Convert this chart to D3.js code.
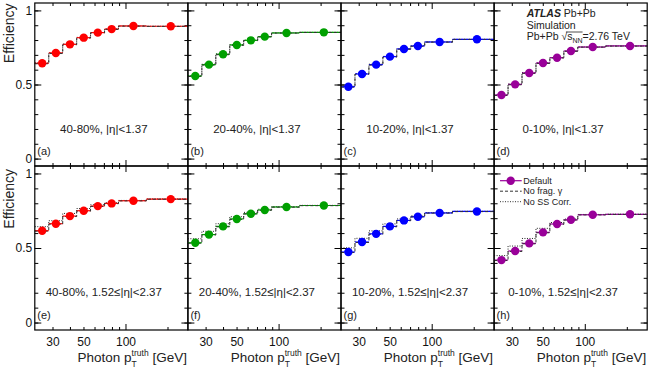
<!DOCTYPE html>
<html>
<head>
<meta charset="utf-8">
<script src="https://d3js.org/d3.v7.min.js"></script>
<style>
body { margin: 0; background: #fff; }
svg { display: block; font-family: "Liberation Sans", Arial, Helvetica, sans-serif; }
</style>
</head>
<body>
<script>
// photon pT bins (GeV) and where the markers sit
var binEdges = [22.4, 28.2, 35.5, 44.7, 56.2, 70.8, 89.1, 141, 280];
var ptPoints = [25.3, 31.7, 40, 50.2, 63.3, 79.6, 114, 211];

var centralities = ["40-80%", "20-40%", "10-20%", "0-10%"];
var etaLabels = ["|η|<1.37", "1.52≤|η|<2.37"];
var panelLetters = ["(a)", "(b)", "(c)", "(d)", "(e)", "(f)", "(g)", "(h)"];
var markerColors = ["#ff0000", "#00a000", "#0000ff", "#990099"];

var yTickLabels = [0, 0.5, 1];
var xTickLabels = [30, 50, 100];

// efficiency, one row per panel (a)..(h)
var effDefault = [
    [0.643, 0.713, 0.771, 0.816, 0.850, 0.874, 0.895, 0.893],
    [0.557, 0.634, 0.704, 0.767, 0.798, 0.823, 0.848, 0.852],
    [0.485, 0.571, 0.634, 0.688, 0.740, 0.760, 0.787, 0.805],
    [0.429, 0.501, 0.578, 0.645, 0.681, 0.726, 0.753, 0.760],
    [0.616, 0.663, 0.714, 0.750, 0.781, 0.799, 0.817, 0.828],
    [0.535, 0.590, 0.645, 0.695, 0.730, 0.755, 0.775, 0.785],
    [0.473, 0.540, 0.595, 0.645, 0.685, 0.710, 0.735, 0.745],
    [0.419, 0.480, 0.531, 0.605, 0.661, 0.689, 0.723, 0.726]
];
// no fragmentation photons
var effNoFrag = [
    [0.640, 0.709, 0.768, 0.813, 0.848, 0.872, 0.894, 0.892],
    [0.554, 0.631, 0.701, 0.764, 0.796, 0.821, 0.847, 0.851],
    [0.482, 0.568, 0.631, 0.685, 0.738, 0.758, 0.786, 0.804],
    [0.426, 0.498, 0.575, 0.642, 0.679, 0.724, 0.752, 0.759],
    [0.613, 0.660, 0.711, 0.747, 0.779, 0.797, 0.816, 0.827],
    [0.532, 0.587, 0.642, 0.692, 0.728, 0.753, 0.774, 0.784],
    [0.470, 0.537, 0.592, 0.642, 0.683, 0.708, 0.734, 0.744],
    [0.416, 0.477, 0.528, 0.602, 0.659, 0.687, 0.722, 0.725]
];
// no shower shape correction
var effNoSS = [
    [0.646, 0.716, 0.774, 0.818, 0.851, 0.875, 0.895, 0.893],
    [0.560, 0.637, 0.707, 0.769, 0.799, 0.824, 0.848, 0.852],
    [0.488, 0.574, 0.637, 0.690, 0.741, 0.761, 0.787, 0.805],
    [0.432, 0.504, 0.581, 0.647, 0.682, 0.727, 0.753, 0.760],
    [0.643, 0.683, 0.732, 0.765, 0.790, 0.804, 0.819, 0.829],
    [0.562, 0.612, 0.663, 0.710, 0.739, 0.760, 0.777, 0.786],
    [0.501, 0.565, 0.615, 0.662, 0.695, 0.716, 0.737, 0.746],
    [0.449, 0.513, 0.564, 0.632, 0.671, 0.694, 0.725, 0.727]
];

var W = 653, H = 367;
var left = 34.8, panelW = 153.1;
var rowTop = [3, 166], rowBottom = [166, 330];
var fontStack = "Liberation Sans, Arial, sans-serif";

var svg = d3.select("body").append("svg")
    .attr("width", W)
    .attr("height", H);

function styleAxis(g) {
    g.select(".domain").remove();
    g.selectAll("line").attr("stroke", "#000");
}

function styleLabels(s) {
    s.select(".domain").remove();
    s.selectAll("text")
        .attr("font-size", 12)
        .attr("font-family", fontStack)
        .attr("fill", "#111");
}

for (var p = 0; p < 8; p++) {
    var row = Math.floor(p / 4), col = p % 4;
    var x0 = left + col * panelW, x1 = x0 + panelW;
    var y0 = rowTop[row], y1 = rowBottom[row];

    var xScale = d3.scaleLog().domain([22.4, 280]).range([x0, x1]);
    var yScale = d3.scaleLinear().domain([-0.05, 1.05]).range([y1, y0]);

    var g = svg.append("g");

    // ticks on all four sides, pointing in
    var yMinor = d3.range(0, 1.001, 0.1);
    var xMinor = xScale.ticks().filter(function(d) { return d !== 100; });
    var axes = [
        [d3.axisLeft(yScale).tickValues(yMinor).tickSize(-3.5), x0, 0],
        [d3.axisLeft(yScale).tickValues(yTickLabels).tickSize(-6.5), x0, 0],
        [d3.axisRight(yScale).tickValues(yMinor).tickSize(-3.5), x1, 0],
        [d3.axisRight(yScale).tickValues(yTickLabels).tickSize(-6.5), x1, 0],
        [d3.axisBottom(xScale).tickValues(xMinor).tickSize(-3), 0, y1],
        [d3.axisBottom(xScale).tickValues([100]).tickSize(-6), 0, y1],
        [d3.axisTop(xScale).tickValues(xMinor).tickSize(-3), 0, y0],
        [d3.axisTop(xScale).tickValues([100]).tickSize(-6), 0, y0]
    ];
    axes.forEach(function(a) {
        g.append("g")
            .attr("transform", "translate(" + a[1] + "," + a[2] + ")")
            .call(a[0].tickFormat(""))
            .call(styleAxis);
    });

    // tick labels only on the outer axes
    if (col === 0) {
        g.append("g")
            .attr("transform", "translate(" + x0 + ",0)")
            .call(d3.axisLeft(yScale).tickValues(yTickLabels).tickSize(0)
                .tickPadding(2.5).tickFormat(function(d) { return String(d); }))
            .call(styleLabels);
    }
    if (row === 1) {
        g.append("g")
            .attr("transform", "translate(0," + y1 + ")")
            .call(d3.axisBottom(xScale).tickValues(xTickLabels).tickSize(0)
                .tickPadding(7.5).tickFormat(d3.format("d")))
            .call(styleLabels);
    }

    // step histograms for the variations
    var stepLine = d3.line()
        .x(function(d) { return xScale(d[0]); })
        .y(function(d) { return yScale(d[1]); })
        .curve(d3.curveStepAfter);
    function stepData(vals) {
        return binEdges.map(function(e, i) { return [e, vals[Math.min(i, vals.length - 1)]]; });
    }
    g.append("path")
        .attr("d", stepLine(stepData(effNoSS[p])))
        .attr("fill", "none")
        .attr("stroke", "#222")
        .attr("stroke-width", 1)
        .attr("stroke-dasharray", "1,1.5");

    // default: horizontal bars over the bin width + markers
    var color = markerColors[col];
    g.selectAll(".xerr")
        .data(effDefault[p])
        .enter()
        .append("line")
        .attr("x1", function(d, i) { return xScale(binEdges[i]); })
        .attr("x2", function(d, i) { return xScale(binEdges[i + 1]); })
        .attr("y1", function(d) { return yScale(d); })
        .attr("y2", function(d) { return yScale(d); })
        .attr("stroke", color)
        .attr("stroke-width", 1.2);

    g.append("path")
        .attr("d", stepLine(stepData(effNoFrag[p])))
        .attr("fill", "none")
        .attr("stroke", "#333")
        .attr("stroke-width", 1)
        .attr("stroke-dasharray", "3,2");

    g.selectAll("circle")
        .data(effDefault[p])
        .enter()
        .append("circle")
        .attr("cx", function(d, i) { return xScale(ptPoints[i]); })
        .attr("cy", function(d) { return yScale(d); })
        .attr("r", 4.2)
        .attr("fill", color);

    // frame
    g.append("rect")
        .attr("x", x0).attr("y", y0)
        .attr("width", panelW).attr("height", y1 - y0)
        .attr("fill", "none")
        .attr("stroke", "#000")
        .attr("stroke-width", 1.2);

    // panel text
    g.append("text")
        .attr("x", x0 + 69)
        .attr("y", y0 + 129.5)
        .attr("text-anchor", "middle")
        .attr("font-size", 11.5)
        .attr("fill", "#222")
        .text(centralities[col] + ", " + etaLabels[row]);

    g.append("text")
        .attr("x", x0 + 2.5)
        .attr("y", y1 - 10.8)
        .attr("font-size", 11)
        .attr("fill", "#222")
        .text(panelLetters[p]);

    // x axis title under each column
    if (row === 1) {
        var t = g.append("text")
            .attr("x", x1 - 1)
            .attr("y", 362)
            .attr("text-anchor", "end")
            .attr("font-size", 13.5)
            .attr("fill", "#222");
        t.append("tspan").text("Photon p");
        t.append("tspan").attr("font-size", 8.5).attr("dy", -6).text("truth");
        t.append("tspan").attr("dy", 6).text(" [GeV]");
        var tx = t.node().getStartPositionOfChar(8).x;
        g.append("text")
            .attr("x", tx)
            .attr("y", 366.5)
            .attr("font-size", 8.5)
            .attr("fill", "#222")
            .text("T");
    }
}

// y axis titles
[0, 1].forEach(function(r) {
    svg.append("text")
        .attr("transform", "translate(14," + (rowTop[r] + (r === 0 ? 0.5 : 3)) + ") rotate(-90)")
        .attr("text-anchor", "end")
        .attr("font-size", 14)
        .attr("fill", "#222")
        .text("Efficiency");
});

// ATLAS label in panel (d)
var ax = left + 3 * panelW + 32.6;
var atlas = svg.append("text").attr("x", ax).attr("y", 17)
    .attr("font-size", 10.5).attr("fill", "#222");
atlas.append("tspan").attr("font-weight", "bold").attr("font-style", "italic").text("ATLAS");
atlas.append("tspan").text(" Pb+Pb");
svg.append("text").attr("x", ax).attr("y", 28.5)
    .attr("font-size", 10.5).attr("fill", "#222").text("Simulation");
var sq = svg.append("text").attr("x", ax).attr("y", 40)
    .attr("font-size", 10.5).attr("fill", "#222");
sq.append("tspan").text("Pb+Pb \u221A");
sq.append("tspan").text("s");
sq.append("tspan").attr("font-size", 7).attr("dy", 2.5).text("NN");
sq.append("tspan").attr("dy", -2.5).text("=2.76 TeV");
var s1 = sq.node().getEndPositionOfChar(9).x;
var sr = sq.node().getStartPositionOfChar(6).x;
svg.append("line")
    .attr("x1", sr + 4.5).attr("x2", s1)
    .attr("y1", 32).attr("y2", 32)
    .attr("stroke", "#222").attr("stroke-width", 0.8);

// legend in panel (h)
var lx = left + 3 * panelW, ly = rowTop[1];
var legendItems = [
    {name: "Default", dash: null},
    {name: "No frag. \u03B3", dash: "3,2"},
    {name: "No SS Corr.", dash: "1,1.5"}
];
legendItems.forEach(function(d, i) {
    var yy = ly + 14.7 + i * 10.5;
    svg.append("line")
        .attr("x1", lx + 5.9).attr("x2", lx + 27.6)
        .attr("y1", yy).attr("y2", yy)
        .attr("stroke", i === 0 ? markerColors[3] : "#333")
        .attr("stroke-width", i === 0 ? 1.2 : 1)
        .attr("stroke-dasharray", d.dash);
    if (i === 0) {
        svg.append("circle").attr("cx", lx + 16.6).attr("cy", yy)
            .attr("r", 4.2).attr("fill", markerColors[3]);
    }
    svg.append("text")
        .attr("x", lx + 29.2).attr("y", yy + 3.2)
        .attr("font-size", 9).attr("fill", "#222")
        .text(d.name);
});
</script>
</body>
</html>
